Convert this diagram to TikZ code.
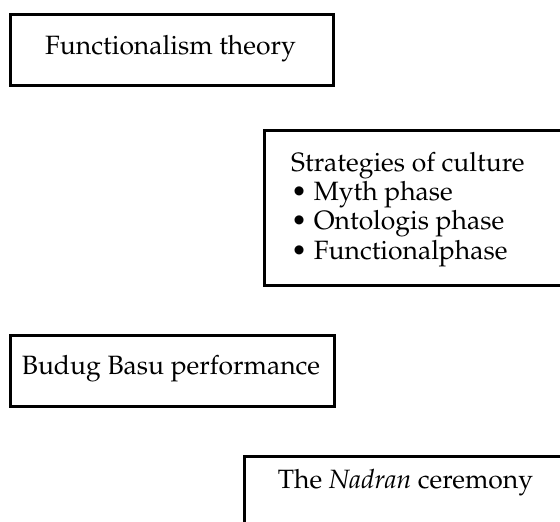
\documentclass[tikz,border=0pt]{standalone}
\usepackage[T1]{fontenc}
\usepackage{mathpazo}
\begin{document}
\begin{tikzpicture}[x=1pt,y=-1pt,
  frame/.style={draw, line width=2.6pt, inner sep=0pt, anchor=north west},
  label/.style={font=\fontsize{26.5}{29.3}\selectfont, inner sep=0pt}]
\useasboundingbox (0,0) rectangle (560,522);
\clip (0,0) rectangle (560,522);

% Theory
\node[frame, minimum width=323pt, minimum height=71pt] (theorybox) at (9,13) {};
\node[label, anchor=base] (theory) at (170.5,54) {Functionalism theory};

% Strategies of culture (box runs off the right edge)
\node[frame, minimum width=340pt, minimum height=155pt] (strategybox) at (263,129) {};
\node[label, anchor=base west, align=left] (strategy) at (291,259)
  {Strategies of culture\\
   \textbullet\ Myth phase\\
   \textbullet\ Ontologis phase\\
   \textbullet\ Functionalphase};

% Performance
\node[frame, minimum width=324pt, minimum height=71pt] (performancebox) at (9,334) {};
\node[label, anchor=base] (performance) at (171,374) {Budug Basu performance};

% Ceremony (box runs off the right and bottom edges)
\node[frame, minimum width=325pt, minimum height=71pt] (ceremonybox) at (243,455) {};
\node[label, anchor=base] (ceremony) at (405.5,488) {The \textit{Nadran} ceremony};
\end{tikzpicture}
\end{document}
